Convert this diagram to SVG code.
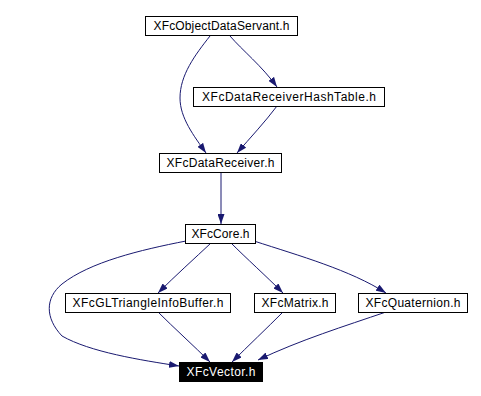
<svg xmlns="http://www.w3.org/2000/svg" width="481" height="396" viewBox="0 0 481 396">
  <defs>
    <marker id="arrow" viewBox="0 0 10 7" refX="10" refY="3.5" markerWidth="10" markerHeight="7" markerUnits="userSpaceOnUse" orient="auto">
      <path d="M0,0 L10,3.5 L0,7 z" fill="#191970"/>
    </marker>
    <style>
      .box { fill: #ffffff; stroke: #000000; stroke-width: 1; }
      .box-hl { fill: #000000; stroke: #000000; stroke-width: 1; }
      .lbl { font-family: "Liberation Sans", Arial, sans-serif; font-size: 12px; text-anchor: middle; fill: #000000; }
      .lbl-hl { fill: #ffffff; }
      .edge { fill: none; stroke: #191970; stroke-width: 1; marker-end: url(#arrow); }
    </style>
  </defs>
  <rect width="481" height="396" fill="#ffffff"/>

  <g id="edges">
    <!-- XFcObjectDataServant.h -> XFcDataReceiverHashTable.h -->
    <path class="edge" d="M230,36 C242,50 262,66 277,87"/>
    <!-- XFcObjectDataServant.h -> XFcDataReceiver.h -->
    <path class="edge" d="M210,36 C195,55 180,75 180,98 C180,118 194,136 206,153"/>
    <!-- XFcDataReceiverHashTable.h -> XFcDataReceiver.h -->
    <path class="edge" d="M277,106 C265,122 250,138 237,153"/>
    <!-- XFcDataReceiver.h -> XFcCore.h -->
    <path class="edge" d="M221,172 L221,224"/>
    <!-- XFcCore.h -> XFcGLTriangleInfoBuffer.h -->
    <path class="edge" d="M211,243 C195,258 175,276 158,293"/>
    <!-- XFcCore.h -> XFcMatrix.h -->
    <path class="edge" d="M231,243 C246,258 266,276 283,293"/>
    <!-- XFcCore.h -> XFcQuaternion.h -->
    <path class="edge" d="M254,241 C300,256 350,270 386,293"/>
    <!-- XFcCore.h -> XFcVector.h -->
    <path class="edge" d="M186,241 C140,250 90,262 62,284 C45,298 45,318 62,336 C90,352 140,360 179,366"/>
    <!-- XFcGLTriangleInfoBuffer.h -> XFcVector.h -->
    <path class="edge" d="M158,312 C174,328 194,346 210,362"/>
    <!-- XFcMatrix.h -> XFcVector.h -->
    <path class="edge" d="M283,312 C267,328 248,346 232,362"/>
    <!-- XFcQuaternion.h -> XFcVector.h -->
    <path class="edge" d="M386,312 C345,326 300,340 258,360"/>
  </g>

  <g id="node-objectdataservant">
    <rect class="box" x="145.5" y="16.5" width="152" height="19"/>
    <text class="lbl" x="221.5" y="30" textLength="136" lengthAdjust="spacing">XFcObjectDataServant.h</text>
  </g>
  <g id="node-datareceiverhashtable">
    <rect class="box" x="193.5" y="87.5" width="191" height="19"/>
    <text class="lbl" x="289" y="101" textLength="174" lengthAdjust="spacing">XFcDataReceiverHashTable.h</text>
  </g>
  <g id="node-datareceiver">
    <rect class="box" x="159.5" y="153.5" width="122" height="19"/>
    <text class="lbl" x="220.5" y="167" textLength="108" lengthAdjust="spacing">XFcDataReceiver.h</text>
  </g>
  <g id="node-core">
    <rect class="box" x="185.5" y="224.5" width="70" height="19"/>
    <text class="lbl" x="220.5" y="238" textLength="58" lengthAdjust="spacing">XFcCore.h</text>
  </g>
  <g id="node-gltriangleinfobuffer">
    <rect class="box" x="65.5" y="293.5" width="165" height="19"/>
    <text class="lbl" x="148" y="307" textLength="151" lengthAdjust="spacing">XFcGLTriangleInfoBuffer.h</text>
  </g>
  <g id="node-matrix">
    <rect class="box" x="254.5" y="293.5" width="81" height="19"/>
    <text class="lbl" x="295" y="307" textLength="67" lengthAdjust="spacing">XFcMatrix.h</text>
  </g>
  <g id="node-quaternion">
    <rect class="box" x="358.5" y="293.5" width="109" height="19"/>
    <text class="lbl" x="413" y="307" textLength="95" lengthAdjust="spacing">XFcQuaternion.h</text>
  </g>
  <g id="node-vector">
    <rect class="box-hl" x="179.5" y="362.5" width="83" height="19"/>
    <text class="lbl lbl-hl" x="221" y="376" textLength="69" lengthAdjust="spacing">XFcVector.h</text>
  </g>
</svg>
